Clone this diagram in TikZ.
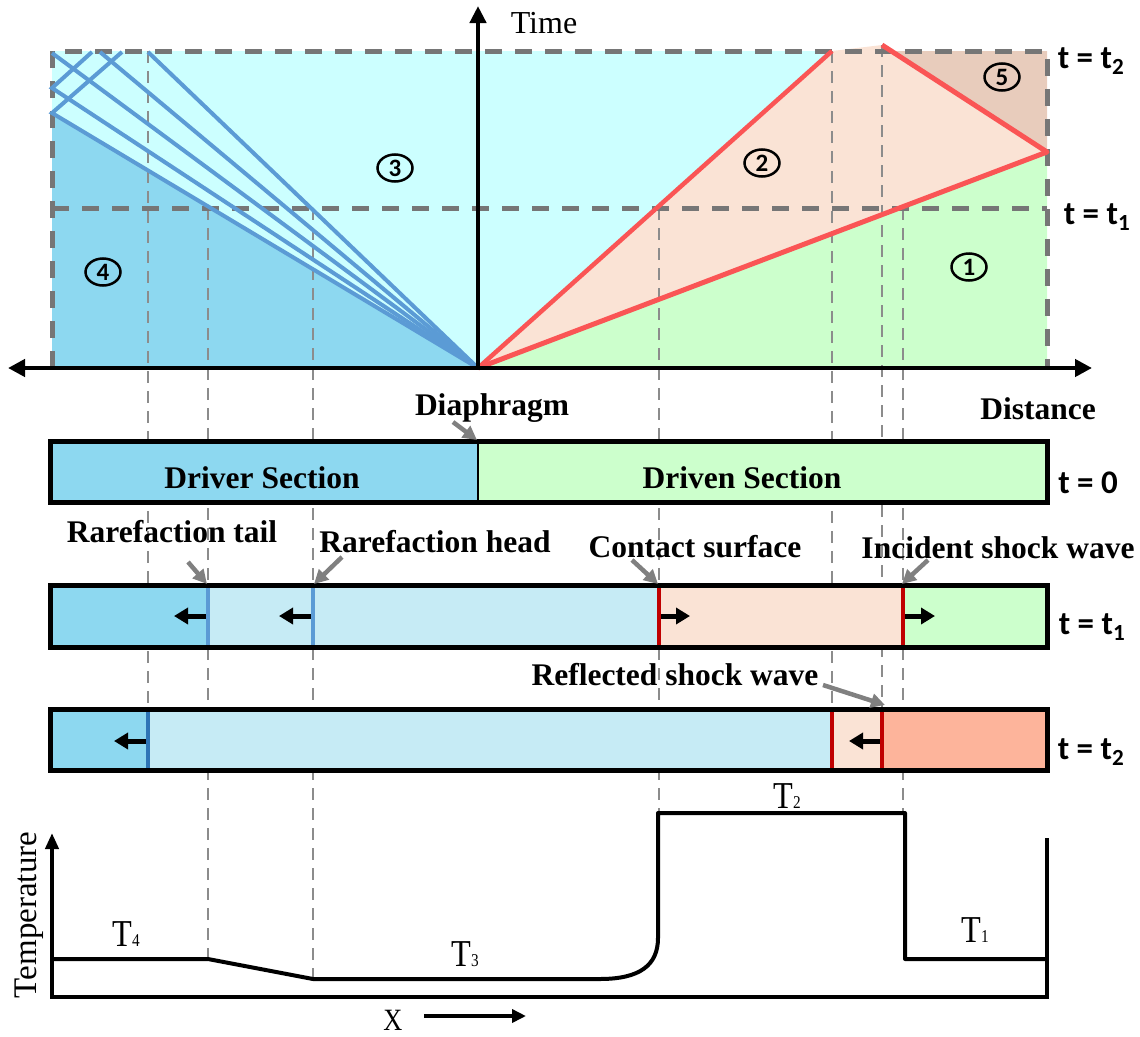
\documentclass[tikz,border=0pt]{standalone}
\usepackage{fontspec}
\setmainfont{Liberation Serif}
\newfontfamily\carl{Carlito}
\usetikzlibrary{arrows.meta,shapes.geometric}
\definecolor{reg4}{RGB}{141,216,240}
\definecolor{reg3}{RGB}{204,255,255}
\definecolor{reg2}{RGB}{250,227,213}
\definecolor{reg1}{RGB}{204,255,204}
\definecolor{reg5}{RGB}{232,204,188}
\definecolor{lblue}{RGB}{198,235,245}
\definecolor{salmon}{RGB}{253,180,155}
\definecolor{shockred}{RGB}{250,85,85}
\definecolor{dred}{RGB}{192,0,0}
\definecolor{fanblue}{RGB}{91,155,213}
\definecolor{dblue}{RGB}{46,117,182}
\definecolor{dgray}{RGB}{118,118,118}
\definecolor{lgray}{RGB}{140,140,140}
\definecolor{agray}{RGB}{128,128,128}
\newcommand{\tsub}[2]{\scalebox{0.85}[1]{#1{\fontsize{18}{18}\selectfont #2}}}
\begin{document}
\begin{tikzpicture}[x=1pt,y=-1pt,
  thickdash/.style={draw=dgray, line width=5pt, dash pattern=on 17pt off 13pt},
  thindash/.style={draw=lgray, line width=2pt, dash pattern=on 12pt off 8pt},
  lbl/.style={font=\fontsize{31.5}{33}\selectfont\bfseries, anchor=base, inner sep=0pt},
  tlbl/.style={font=\carl\fontsize{33}{35}\selectfont\bfseries, inner sep=0pt},
  tplbl/.style={font=\fontsize{38}{40}\selectfont, anchor=base, inner sep=0pt},
  num/.style={ellipse, draw, line width=2.5pt, minimum width=35pt, minimum height=27pt, inner sep=0pt, font=\carl\fontsize{25}{25}\selectfont\bfseries},
  ann/.style={draw=agray, line width=4.5pt, -{Triangle[length=14pt,width=14pt]}},
  barrow/.style={line width=5pt, -{Triangle[length=14pt,width=16pt]}},
  axis/.style={line width=4.5pt},
  fan/.style={draw=fanblue, line width=4pt},
  shock/.style={draw=shockred, line width=4.5pt},
  boxframe/.style={draw=black, line width=5pt}
]
\useasboundingbox (0,0) rectangle (1140,1036);

% ---------- x-t diagram fills ----------
\coordinate (O) at (478,368);
\fill[reg3] (52,51) rectangle (1047,368);
\fill[reg4] (52,113) -- (O) -- (52,368) -- cycle;
\fill[reg2] (O) -- (832,51) -- (882,45) -- (1047,152) -- cycle;
\fill[reg1] (O) -- (1047,152) -- (1047,368) -- cycle;
\fill[reg5] (891,51) -- (1047,51) -- (1047,152) -- cycle;

% ---------- thin dashed projection lines ----------
\draw[thindash] (148,51) -- (148,709);
\draw[thindash] (208,208) -- (208,957);
\draw[thindash] (313,208) -- (313,979);
\draw[thindash] (659,208) -- (659,813);
\draw[thindash] (832,51) -- (832,709);
\draw[thindash] (882,45) -- (882,709);
\draw[thindash] (903,208) -- (903,813);

% ---------- thick dashed frame ----------
\draw[thickdash] (52,368) -- (52,51) -- (1047,51) -- (1047,368);
\draw[thickdash] (52,208) -- (1047,208);

% ---------- rarefaction fan ----------
\draw[fan] (O) -- (148,52);
\draw[fan] (O) -- (100,52);
\draw[fan] (O) -- (52,53);
\draw[fan] (O) -- (52,88) -- (92,52);
\draw[fan] (O) -- (52,113) -- (122,52);

% ---------- shocks ----------
\draw[shock] (O) -- (832,51);
\draw[shock, line width=5pt, line join=round] (O) -- (1047,152) -- (882,45);

% ---------- axes ----------
\draw[axis, {Triangle[length=17pt,width=17pt]}-{Triangle[length=17pt,width=17pt]}] (8,368) -- (1092,368);
\draw[axis, -{Triangle[length=17pt,width=16pt]}] (O) -- (478,6);

\node[font=\fontsize{32}{34}\selectfont, anchor=base, inner sep=0pt] (time) at (544,33) {Time};
\node[lbl] (dist) at (1038,419) {Distance};

\node[num] (n1) at (969,267) {1};
\node[num] (n2) at (762,163) {2};
\node[num] (n3) at (395,168) {3};
\node[num] (n4) at (103,272) {4};
\node[num] (n5) at (1002,77) {5};

\node[tlbl] (tt2) at (1091,61) {t = t\textsubscript{2}};
\node[tlbl] (tt1) at (1097,217) {t = t\textsubscript{1}};

% ---------- t = 0 box ----------
\fill[reg4] (50,441) rectangle (478,502);
\fill[reg1] (478,441) rectangle (1047,502);
\draw[line width=1.5pt] (478,441) -- (478,502);
\draw[boxframe] (50,441) rectangle (1047,502);
\node[lbl] (driver) at (262,488) {Driver Section};
\node[lbl] (driven) at (742,488) {Driven Section};
\node[tlbl] (t0) at (1088,483) {t = 0};
\node[lbl] (diaph) at (492,415) {Diaphragm};
\coordinate (diaphpt) at (477,440);
\draw[ann] (453,422) -- (diaphpt);

% ---------- t = t1 box ----------
\fill[reg4] (50,585) rectangle (208,647);
\fill[lblue] (208,585) rectangle (659,647);
\fill[reg2] (659,585) rectangle (903,647);
\fill[reg1] (903,585) rectangle (1047,647);
\draw[fanblue, line width=3.5pt] (208,585) -- (208,647);
\draw[fanblue, line width=3.5pt] (313,585) -- (313,647);
\draw[dred, line width=4.5pt] (659,585) -- (659,647);
\draw[dred, line width=4.5pt] (903,585) -- (903,647);
\draw[boxframe] (50,585) rectangle (1047,647);
\draw[barrow] (206,616) -- (174,616);
\draw[barrow] (311,616) -- (279,616);
\draw[barrow] (661,616) -- (690,616);
\draw[barrow] (905,616) -- (935,616);
\node[tlbl] (tt1b) at (1092,627) {t = t\textsubscript{1}};

\node[lbl] (rtail) at (172,542) {Rarefaction tail};
\node[lbl] (rhead) at (435,552) {Rarefaction head};
\node[lbl] (contact) at (695,557) {Contact surface};
\node[lbl] (incident) at (998,558) {Incident shock wave};
\draw[ann] (188,562) -- (207,584);
\draw[ann] (342,557) -- (314,584);
\draw[ann] (632,560) -- (658,584);
\draw[ann] (928,560) -- (902,584);

% ---------- t = t2 box ----------
\fill[reg4] (50,709) rectangle (148,770);
\fill[lblue] (148,709) rectangle (832,770);
\fill[reg2] (832,709) rectangle (882,770);
\fill[salmon] (882,709) rectangle (1047,770);
\draw[dblue, line width=4.5pt] (148,709) -- (148,770);
\draw[dred, line width=4.5pt] (832,709) -- (832,770);
\draw[dred, line width=4.5pt] (882,709) -- (882,770);
\draw[boxframe] (50,709) rectangle (1047,770);
\draw[barrow] (146,741) -- (114,741);
\draw[barrow] (880,741) -- (849,741);
\node[tlbl] (tt2b) at (1091,752) {t = t\textsubscript{2}};
\node[lbl] (refl) at (675,685) {Reflected shock wave};
\draw[ann] (823,685) -- (885,705);

% ---------- temperature plot ----------
\draw[line width=4pt, {Triangle[length=16pt,width=13pt]}-] (52,833) -- (52,997) -- (1047,997) -- (1047,838);
\draw[line width=4pt, line join=round]
  (52,959) -- (208,959) -- (313,979) -- (600,979)
  .. controls (640,979) and (658,965) .. (658,938)
  -- (658,813) -- (905,813) -- (905,959) -- (1047,959);
\node[tplbl] (T4) at (126,946) {\tsub{T}{4}};
\node[tplbl] (T3) at (465,966) {\tsub{T}{3}};
\node[tplbl] (T2) at (787,808) {\tsub{T}{2}};
\node[tplbl] (T1) at (975,942) {\tsub{T}{1}};
\node[font=\fontsize{33}{35}\selectfont, rotate=90, inner sep=0pt] (templbl) at (29,915) {Temperature};
\node[font=\fontsize{31}{32}\selectfont, inner sep=0pt] (xlbl) at (393,1020) {\scalebox{0.85}[1]{X}};
\coordinate (xa) at (424,1016);
\coordinate (xb) at (526,1016);
\draw[line width=4pt, -{Triangle[length=14pt,width=13pt]}] (xa) -- (xb);
\end{tikzpicture}
\end{document}
